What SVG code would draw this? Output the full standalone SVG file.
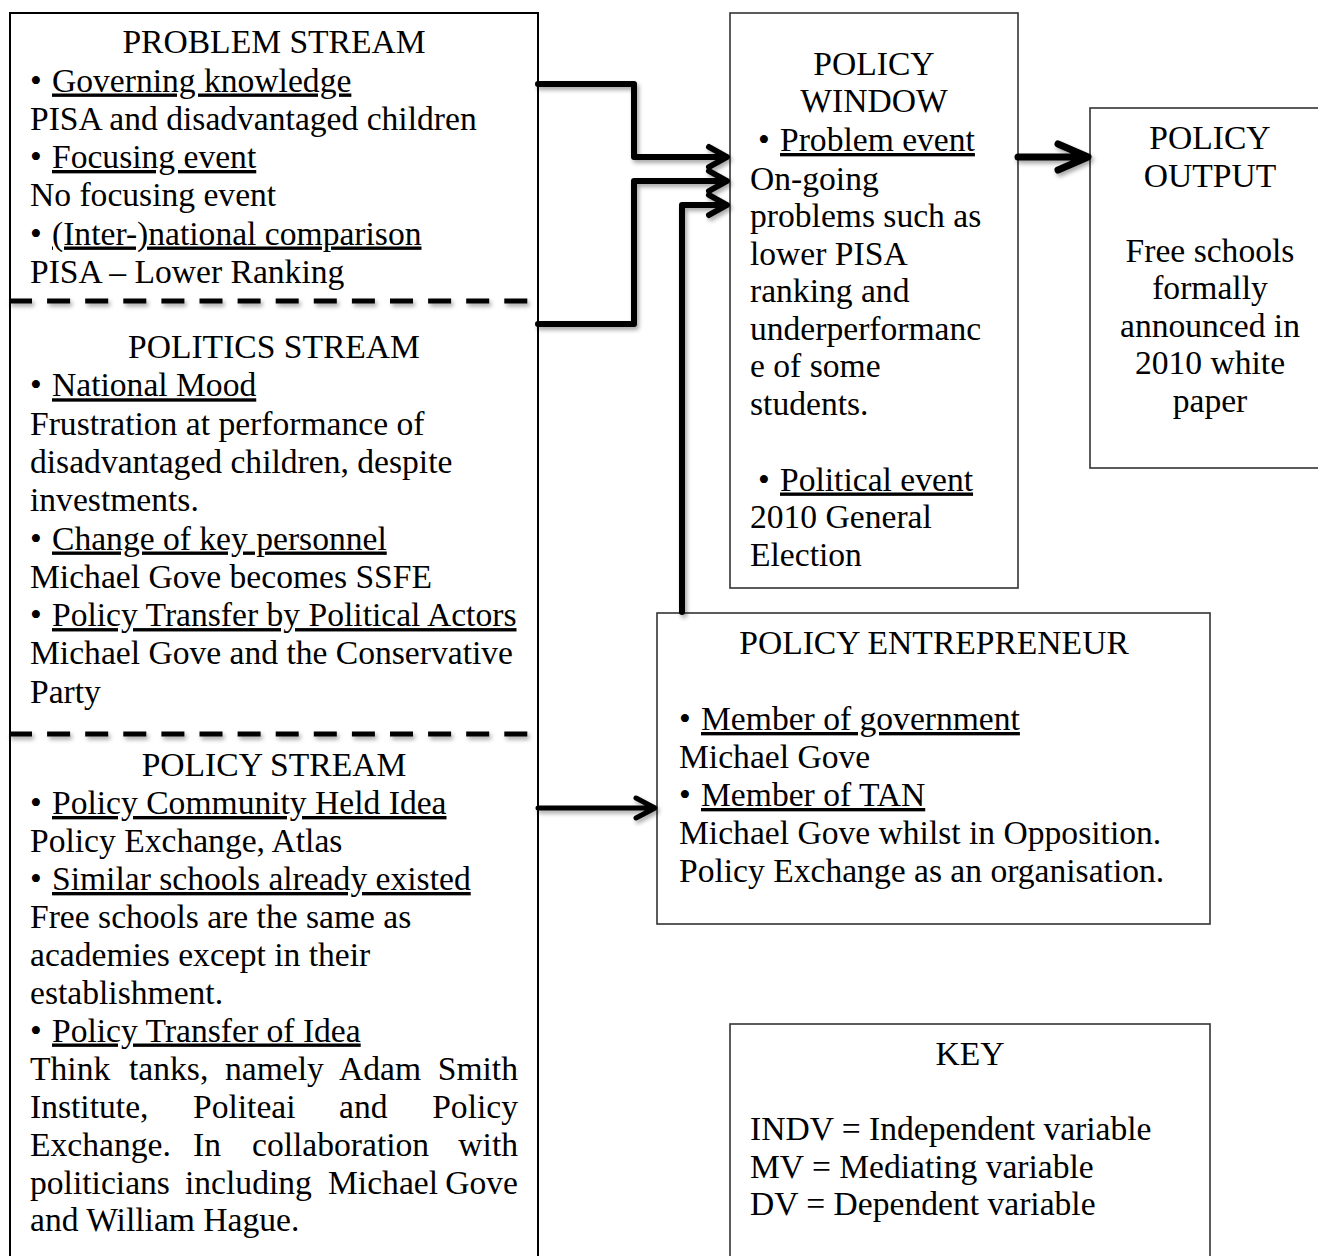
<svg xmlns="http://www.w3.org/2000/svg" width="1318" height="1256" viewBox="0 0 1318 1256">
<defs>
<style>
text{font-family:"Liberation Serif","Times New Roman",serif;font-size:33.6px;fill:#000}
.c{text-anchor:middle}
.u{text-decoration:underline}
.e{text-anchor:end}
.box{fill:#fff;stroke:#333;stroke-width:1.6}
.conn{fill:none;stroke:#000;stroke-linecap:round;stroke-linejoin:round}
.dash{stroke:#000;stroke-width:5;stroke-dasharray:23 15.1}
</style>
<filter id="sh" x="-20%" y="-20%" width="140%" height="140%">
<feDropShadow dx="2" dy="3" stdDeviation="2" flood-color="#000" flood-opacity="0.35"/>
</filter>
</defs>
<rect width="1318" height="1256" fill="#fff"/>

<g id="streams">
<rect x="10" y="13" width="528" height="1270" fill="#fff" stroke="#000" stroke-width="2"/>
<g filter="url(#sh)">
<line class="dash" x1="9" y1="301" x2="528" y2="301"/>
<line class="dash" x1="9" y1="734" x2="528" y2="734"/>
</g>
</g>

<g id="problem-stream">
<text x="274" y="53" class="c">PROBLEM STREAM</text>
<text x="30" y="91.5">•</text><text x="52" y="91.5" class="u">Governing knowledge</text>
<text x="30" y="129.8">PISA and disadvantaged children</text>
<text x="30" y="168">•</text><text x="52" y="168" class="u">Focusing event</text>
<text x="30" y="206">No focusing event</text>
<text x="30" y="244.5">•</text><text x="52" y="244.5" class="u">(Inter-)national comparison</text>
<text x="30" y="282.5">PISA – Lower Ranking</text>
</g>

<g id="politics-stream">
<text x="274" y="358" class="c">POLITICS STREAM</text>
<text x="30" y="396.3">•</text><text x="52" y="396.3" class="u">National Mood</text>
<text x="30" y="434.6">Frustration at performance of</text>
<text x="30" y="472.9">disadvantaged children, despite</text>
<text x="30" y="511.2">investments.</text>
<text x="30" y="549.5">•</text><text x="52" y="549.5" class="u">Change of key personnel</text>
<text x="30" y="587.8">Michael Gove becomes SSFE</text>
<text x="30" y="626.1">•</text><text x="52" y="626.1" class="u">Policy Transfer by Political Actors</text>
<text x="30" y="664.4">Michael Gove and the Conservative</text>
<text x="30" y="702.7">Party</text>
</g>

<g id="policy-stream">
<text x="274" y="776" class="c">POLICY STREAM</text>
<text x="30" y="814">•</text><text x="52" y="814" class="u">Policy Community Held Idea</text>
<text x="30" y="852">Policy Exchange, Atlas</text>
<text x="30" y="890">•</text><text x="52" y="890" class="u">Similar schools already existed</text>
<text x="30" y="928">Free schools are the same as</text>
<text x="30" y="965.5">academies except in their</text>
<text x="30" y="1003.5">establishment.</text>
<text x="30" y="1041.5">•</text><text x="52" y="1041.5" class="u">Policy Transfer of Idea</text>
<text y="1079.5"><tspan x="30">Think</tspan><tspan x="129">tanks,</tspan><tspan x="225">namely</tspan><tspan x="339">Adam</tspan><tspan x="518" class="e">Smith</tspan></text>
<text y="1117.5"><tspan x="30">Institute,</tspan><tspan x="193">Politeai</tspan><tspan x="339">and</tspan><tspan x="518" class="e">Policy</tspan></text>
<text y="1155.5"><tspan x="30">Exchange.</tspan><tspan x="193">In</tspan><tspan x="252">collaboration</tspan><tspan x="518" class="e">with</tspan></text>
<text y="1193.5"><tspan x="30">politicians</tspan><tspan x="185">including</tspan><tspan x="328">Michael</tspan><tspan x="518" class="e">Gove</tspan></text>
<text x="30" y="1231">and William Hague.</text>
</g>

<g id="policy-window">
<rect class="box" x="730" y="13" width="288" height="575"/>
<text x="874" y="74.5" class="c">POLICY</text>
<text x="874" y="112" class="c">WINDOW</text>
<text x="758" y="151">•</text><text x="780" y="151" class="u">Problem event</text>
<text x="750" y="189.5">On-going</text>
<text x="750" y="227">problems such as</text>
<text x="750" y="264.5">lower PISA</text>
<text x="750" y="302">ranking and</text>
<text x="750" y="339.5">underperformanc</text>
<text x="750" y="377">e of some</text>
<text x="750" y="414.5">students.</text>
<text x="758" y="490.5">•</text><text x="780" y="490.5" class="u">Political event</text>
<text x="750" y="528">2010 General</text>
<text x="750" y="566">Election</text>
</g>

<g id="policy-output">
<rect class="box" x="1090" y="108" width="240" height="360"/>
<text x="1210" y="149" class="c">POLICY</text>
<text x="1210" y="186.5" class="c">OUTPUT</text>
<text x="1210" y="261.5" class="c">Free schools</text>
<text x="1210" y="299" class="c">formally</text>
<text x="1210" y="336.5" class="c">announced in</text>
<text x="1210" y="374" class="c">2010 white</text>
<text x="1210" y="411.5" class="c">paper</text>
</g>

<g id="policy-entrepreneur">
<rect class="box" x="657" y="613" width="553" height="311"/>
<text x="934" y="654" class="c">POLICY ENTREPRENEUR</text>
<text x="679" y="730">•</text><text x="701" y="730" class="u">Member of government</text>
<text x="679" y="767.5">Michael Gove</text>
<text x="679" y="806">•</text><text x="701" y="806" class="u">Member of TAN</text>
<text x="679" y="844">Michael Gove whilst in Opposition.</text>
<text x="679" y="881.5">Policy Exchange as an organisation.</text>
</g>

<g id="key">
<rect class="box" x="730" y="1024" width="480" height="260"/>
<text x="970" y="1065" class="c">KEY</text>
<text x="750" y="1140">INDV = Independent variable</text>
<text x="750" y="1177.5">MV = Mediating variable</text>
<text x="750" y="1215">DV = Dependent variable</text>
</g>

<g id="connectors" filter="url(#sh)">
<path class="conn" stroke-width="6" d="M538 84 H634 V157 H726 M709 147 L727 157 L709 167"/>
<path class="conn" stroke-width="6" d="M538 324 H634 V181 H726 M709 171 L727 181 L709 191"/>
<path class="conn" stroke-width="6" d="M682 612 V205 H726 M709 195 L727 205 L709 215"/>
<path class="conn" stroke-width="7" d="M1018 157 H1087 M1058 144 L1088 157 L1058 170"/>
<path class="conn" stroke-width="5" d="M538 808 H654 M636 798 L655 808 L636 818"/>
</g>
</svg>
